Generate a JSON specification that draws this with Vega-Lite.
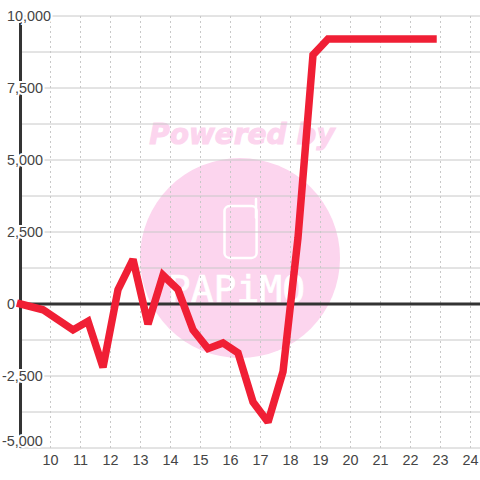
{
"$schema":"https://vega.github.io/schema/vega-lite/v6.json",
"width":460,"height":432,
"autosize":"none",
"padding":{"left":20,"top":16,"right":0,"bottom":32},
"background":"white",
"config":{"view":{"stroke":null},"text":{"font":"Liberation Sans"}},
"datasets":{
"series":[{"h":9,"v":0},{"h":9.75,"v":-200},{"h":10.75,"v":-900},{"h":11.25,"v":-600},{"h":11.75,"v":-2200},{"h":12.25,"v":500},{"h":12.75,"v":1550},{"h":13.25,"v":-700},{"h":13.75,"v":1000},{"h":14.25,"v":500},{"h":14.75,"v":-900},{"h":15.25,"v":-1550},{"h":15.75,"v":-1350},{"h":16.25,"v":-1700},{"h":16.75,"v":-3400},{"h":17.25,"v":-4100},{"h":17.75,"v":-2350},{"h":18.25,"v":2300},{"h":18.75,"v":8650},{"h":19.25,"v":9200},{"h":19.75,"v":9200},{"h":20.25,"v":9200},{"h":20.75,"v":9200},{"h":21.25,"v":9200},{"h":21.75,"v":9200},{"h":22.25,"v":9200},{"h":22.75,"v":9200}],
"hgrid":[{"v":-5000},{"v":-3750},{"v":-2500},{"v":-1250},{"v":0},{"v":1250},{"v":2500},{"v":3750},{"v":5000},{"v":6250},{"v":7500},{"v":8750},{"v":10000}],
"vgrid":[{"h":10},{"h":11},{"h":12},{"h":13},{"h":14},{"h":15},{"h":16},{"h":17},{"h":18},{"h":19},{"h":20},{"h":21},{"h":22},{"h":23},{"h":24}],
"ylabels":[{"v":10000,"t":"10,000"},{"v":7500,"t":"7,500"},{"v":5000,"t":"5,000"},{"v":2500,"t":"2,500"},{"v":0,"t":"0"},{"v":-2500,"t":"-2,500"},{"v":-5000,"t":"-5,000"}]
},
"layer":[
{"data":{"values":[{"h":16.317,"v":1597}]},
 "mark":{"type":"point","shape":"circle","filled":true,"size":40000,"color":"#fcd5ee","opacity":1},
 "encoding":{
  "x":{"field":"h","type":"quantitative","scale":{"domain":[8.983,24.317],"nice":false,"zero":false},"axis":null},
  "y":{"field":"v","type":"quantitative","scale":{"domain":[-5000,10000],"nice":false,"zero":false},"axis":null}
 }},
{"data":{"values":[{"h":16.38,"v":5830,"t":"Powered by"}]},
 "mark":{"type":"text","font":"DejaVu Sans","fontWeight":"bold","fontStyle":"italic","fontSize":28,"color":"#fcd5ee","stroke":"#fcd5ee","strokeWidth":1,"align":"center","baseline":"middle"},
 "encoding":{"x":{"field":"h","type":"quantitative"},"y":{"field":"v","type":"quantitative"},"text":{"field":"t"}}},
{"data":{"values":[{"h":16.2,"v":450,"t":"PAPiMO"}]},
 "mark":{"type":"text","font":"DejaVu Sans Mono","fontSize":38,"color":"white","stroke":"white","strokeWidth":0.6,"align":"center","baseline":"middle"},
 "encoding":{"x":{"field":"h","type":"quantitative"},"y":{"field":"v","type":"quantitative"},"text":{"field":"t"}}},
{"data":{"values":[{"a":15.8,"b":16.87,"c":1600,"d":3400}]},
 "mark":{"type":"rect","fill":"#fcd5ee","stroke":"white","strokeWidth":2.5,"cornerRadius":5},
 "encoding":{"x":{"field":"a","type":"quantitative"},"x2":{"field":"b"},"y":{"field":"c","type":"quantitative"},"y2":{"field":"d"}}},
{"data":{"values":[{"a":16.85,"c":3000,"d":3650}]},
 "mark":{"type":"rule","color":"white","strokeWidth":2.5,"strokeCap":"round"},
 "encoding":{"x":{"field":"a","type":"quantitative"},"y":{"field":"c","type":"quantitative"},"y2":{"field":"d"}}},
{"data":{"name":"vgrid"},
 "mark":{"type":"rule","color":"#c8c8c8","strokeWidth":1,"strokeDash":[2,3]},
 "encoding":{"x":{"field":"h","type":"quantitative"}}},
{"data":{"name":"hgrid"},
 "mark":{"type":"rule","color":"#c8c8c8","strokeWidth":1},
 "encoding":{"y":{"field":"v","type":"quantitative"}}},
{"data":{"values":[{"v":0}]},
 "mark":{"type":"rule","color":"#333333","strokeWidth":3},
 "encoding":{"y":{"field":"v","type":"quantitative"}}},
{"data":{"values":[{"h":9}]},
 "mark":{"type":"rule","color":"#333333","strokeWidth":3},
 "encoding":{"x":{"field":"h","type":"quantitative"}}},
{"data":{"name":"vgrid"},
 "mark":{"type":"text","align":"center","baseline":"middle","fontSize":14.4,"color":"#444","dy":13},
 "encoding":{"x":{"field":"h","type":"quantitative"},"y":{"datum":-5000,"type":"quantitative"},"text":{"field":"h","type":"nominal"}}},
{"data":{"name":"ylabels"},"transform":[{"filter":"datum.v >= 0"}],
 "mark":{"type":"text","align":"left","baseline":"middle","fontSize":14.4,"color":"white","stroke":"white","strokeWidth":4,"dy":1},
 "encoding":{"x":{"datum":8.55,"type":"quantitative"},"y":{"field":"v","type":"quantitative"},"text":{"field":"t"}}},
{"data":{"name":"ylabels"},"transform":[{"filter":"datum.v == -2500"}],
 "mark":{"type":"text","align":"left","baseline":"middle","fontSize":14.4,"color":"white","stroke":"white","strokeWidth":4,"dy":1},
 "encoding":{"x":{"datum":8.383,"type":"quantitative"},"y":{"field":"v","type":"quantitative"},"text":{"field":"t"}}},
{"data":{"name":"ylabels"},"transform":[{"filter":"datum.v == -5000"}],
 "mark":{"type":"text","align":"left","baseline":"middle","fontSize":14.4,"color":"white","stroke":"white","strokeWidth":4,"dy":-6},
 "encoding":{"x":{"datum":8.383,"type":"quantitative"},"y":{"field":"v","type":"quantitative"},"text":{"field":"t"}}},
{"data":{"name":"ylabels"},"transform":[{"filter":"datum.v >= 0"}],
 "mark":{"type":"text","align":"left","baseline":"middle","fontSize":14.4,"color":"#444","dy":1},
 "encoding":{"x":{"datum":8.55,"type":"quantitative"},"y":{"field":"v","type":"quantitative"},"text":{"field":"t"}}},
{"data":{"name":"ylabels"},"transform":[{"filter":"datum.v == -2500"}],
 "mark":{"type":"text","align":"left","baseline":"middle","fontSize":14.4,"color":"#444","dy":1},
 "encoding":{"x":{"datum":8.383,"type":"quantitative"},"y":{"field":"v","type":"quantitative"},"text":{"field":"t"}}},
{"data":{"name":"ylabels"},"transform":[{"filter":"datum.v == -5000"}],
 "mark":{"type":"text","align":"left","baseline":"middle","fontSize":14.4,"color":"#444","dy":-6},
 "encoding":{"x":{"datum":8.383,"type":"quantitative"},"y":{"field":"v","type":"quantitative"},"text":{"field":"t"}}},
{"data":{"name":"series"},
 "mark":{"type":"line","color":"#f01f35","strokeWidth":7.5,"strokeJoin":"miter","strokeMiterLimit":2,"strokeCap":"square","clip":false},
 "encoding":{"x":{"field":"h","type":"quantitative"},"y":{"field":"v","type":"quantitative"}}}
]
}
